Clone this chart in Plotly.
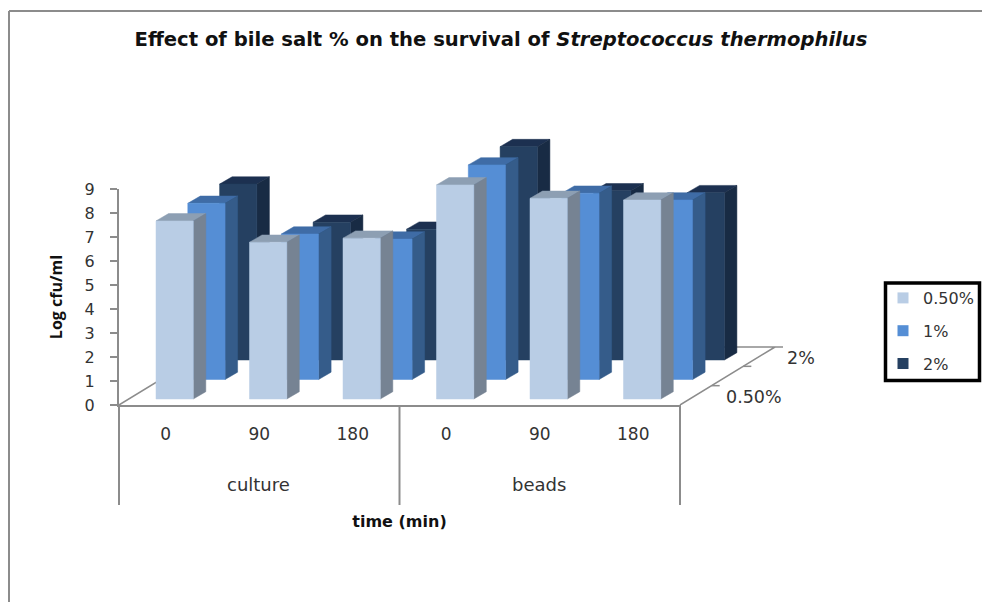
import plotly.graph_objects as go

# ---- data ----
time_labels = ["0", "90", "180", "0", "90", "180"]
groups = ["culture", "beads"]
series_names = ["0.50%", "1%", "2%"]
values_050 = [7.42, 6.53, 6.70, 8.92, 8.36, 8.29]
values_1 = [7.34, 6.06, 5.85, 8.94, 7.76, 7.48]
values_2 = [7.33, 5.74, 5.45, 8.89, 7.05, 6.97]
y_ticks = list(range(10))

# ---- styles / layout (page pixels) ----
front = ["#B9CDE5", "#558ED5", "#254061"]
side = ["#768393", "#355C8A", "#182B44"]
top = ["#8D9FB3", "#3F6CA6", "#1C3050"]
FIG_W, FIG_H = 982, 602
L, R, T, B = 119, 680, 189, 405        # the 0-6 x 0-9 axes
R2, T2 = 800, 130                      # wider drawing area for the oblique depth
XU = (R - L) / 6
YU = (B - T) / 9
BAR_X0, BAR_W = 37 / XU, 37.3 / XU
BASE0 = 6 / YU
DEPTH_X, DEPTH_Y = 31.8 / XU, 19.5 / YU
BAR_DX, BAR_DY = 12.5 / XU, 7.3 / YU
AX = "#8C8C8C"
TXT = "#333333"
FONT = "DejaVu Sans"


def paper_x(x):
    return (x - L) / (R2 - L)


def paper_y(y):
    return (B - y) / (B - T2)


fig = go.Figure()
backx, backy = 95 / XU, 58 / YU
ext = dict(xaxis="x2", yaxis="y2", showlegend=False, hoverinfo="skip")

# floor outline
fig.add_trace(go.Scatter(
    x=[0, backx, 6 + backx, 6, None, 6 + backx, 6 + backx + 8 / XU],
    y=[0, backy, backy, 0, None, backy, backy],
    mode="lines", line=dict(color=AX, width=1.5), **ext))
# depth-axis ticks
tx, ty = [], []
for d in (1, 2):
    tx += [6 + d * backx / 3, 6 + d * backx / 3 + 8 / XU, None]
    ty += [d * backy / 3, d * backy / 3, None]
fig.add_trace(go.Scatter(x=tx, y=ty, mode="lines", line=dict(color=AX, width=1.5), **ext))


def faces(vals, row):
    """Front, side and top polygons of one row, projected obliquely."""
    fr_x, fr_y, si_x, si_y, to_x, to_y = [], [], [], [], [], []
    base = BASE0 + row * DEPTH_Y
    for i, v in enumerate(vals):
        x0 = i + BAR_X0 + row * DEPTH_X
        x1 = x0 + BAR_W
        h = base + v
        fr_x += [x0, x1, x1, x0, x0, None]
        fr_y += [base, base, h, h, base, None]
        si_x += [x1, x1 + BAR_DX, x1 + BAR_DX, x1, x1, None]
        si_y += [base, base + BAR_DY, h + BAR_DY, h, base, None]
        to_x += [x0, x1, x1 + BAR_DX, x0 + BAR_DX, x0, None]
        to_y += [h, h, h + BAR_DY, h + BAR_DY, h, None]
    return (fr_x, fr_y), (si_x, si_y), (to_x, to_y)


rows = [values_050, values_1, values_2]
for row in (2, 1, 0):
    fr, si, to = faces(rows[row], row)
    for (xs, ys), col in ((to, top[row]), (si, side[row]), (fr, front[row])):
        fig.add_trace(go.Scatter(
            x=xs, y=ys, mode="lines", fill="toself", fillcolor=col,
            line=dict(color=col, width=0.5), **ext))

# legend entries
for i, name in enumerate(series_names):
    fig.add_trace(go.Scatter(
        x=[None], y=[None], mode="markers", name=name, legendgroup=name,
        marker=dict(symbol="square", size=11, color=front[i])))


def pline(x0, y0, x1, y1, color=AX, width=2):
    return dict(type="line", xref="paper", yref="paper", x0=paper_x(x0), x1=paper_x(x1),
                y0=paper_y(y0), y1=paper_y(y1), line=dict(color=color, width=width))


shapes = [pline(L + v * XU, B, L + v * XU, 505) for v in (0, 3, 6)]
# chart frame
shapes.append(pline(9, 11, 9, 602))
shapes.append(pline(9, 11, 982, 11))
# legend box
shapes.append(dict(type="rect", xref="paper", yref="paper", x0=paper_x(885.5), x1=paper_x(979.5),
                   y0=paper_y(283), y1=paper_y(380.5), line=dict(color="black", width=3.5),
                   fillcolor="white", layer="below"))


def note(x, y, text, size=16):
    return dict(xref="paper", yref="paper", x=paper_x(x), y=paper_y(y), text=text, showarrow=False,
                xanchor="center", yanchor="middle",
                font=dict(family=FONT, size=size, color=TXT))


annotations = [
    note(L + 1.5 * XU - 1, 484, groups[0], 18),
    note(L + 4.5 * XU - 1, 484, groups[1], 18),
    note(754, 397, series_names[0], 17.5),
    note(801, 358, series_names[2], 17.5),
]

fig.update_layout(
    width=FIG_W, height=FIG_H,
    margin=dict(l=L, r=FIG_W - R2, t=T2, b=FIG_H - B, autoexpand=False),
    paper_bgcolor="white", plot_bgcolor="rgba(0,0,0,0)",
    title=dict(text="<b>Effect of bile salt % on the survival of <i>Streptococcus thermophilus</i></b>",
               x=501 / FIG_W, xanchor="center", y=1 - 39 / FIG_H, yanchor="middle",
               font=dict(family=FONT, size=19.6, color="#111111")),
    xaxis=dict(domain=[0, (R - L) / (R2 - L)], range=[0, 6], tickmode="array",
               tickvals=[i + 0.5 for i in range(6)], ticktext=time_labels, ticks="",
               ticklabelstandoff=13, showgrid=False, zeroline=False,
               showline=True, linecolor=AX, linewidth=2,
               tickfont=dict(family=FONT, size=17, color=TXT),
               title=dict(text="<b>time (min)</b>", standoff=72,
                          font=dict(family=FONT, size=16, color="#111111"))),
    yaxis=dict(domain=[0, (B - T) / (B - T2)], range=[0, 9], tickmode="array", tickvals=y_ticks,
               ticks="outside", ticklen=7, tickcolor=AX, tickwidth=2, showgrid=False, zeroline=False,
               showline=True, linecolor=AX, linewidth=2, ticklabelstandoff=12,
               tickfont=dict(family=FONT, size=16, color=TXT),
               title=dict(text="<b>Log cfu/ml</b>", standoff=18,
                          font=dict(family="Open Sans", size=16, color="#111111"))),
    xaxis2=dict(domain=[0, 1], range=[0, (R2 - L) / XU], visible=False, anchor="y2"),
    yaxis2=dict(domain=[0, 1], range=[0, (B - T2) / YU], visible=False, anchor="x2"),
    legend=dict(x=paper_x(883), y=paper_y(281), xanchor="left", yanchor="top",
                bgcolor="rgba(0,0,0,0)", borderwidth=0, traceorder="grouped",
                tracegroupgap=9, itemwidth=30,
                font=dict(family=FONT, size=16, color=TXT)),
    shapes=shapes, annotations=annotations,
)

fig.write_html("out.html", default_width=f"{FIG_W}px", default_height=f"{FIG_H}px",
               config={"displayModeBar": False},
               post_script="document.body.style.margin='0';")
